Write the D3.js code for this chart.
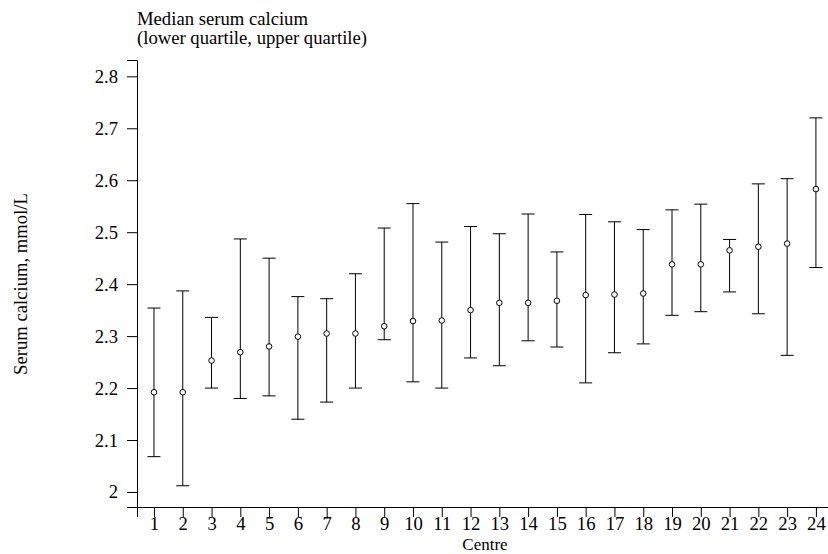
<!DOCTYPE html>
<html lang="en">
<head>
    <meta charset="utf-8" />
    <style>
        body {margin:0; background: white;}
        text {font-family: "Liberation Serif", "Times New Roman", Times, "DejaVu Serif", serif; font-size: 18.67px; fill: black;}
        .axis path, .axis line {stroke: black; stroke-width: 1;}
        .bar {stroke: black; stroke-width: 1; fill: none;}
        circle {stroke: black; stroke-width: 1; fill: none;}
    </style>
    <script src="https://cdn.jsdelivr.net/npm/d3@7"></script>
</head>
<body>
    <svg></svg>
</body>
<script>
    var width = 828,
        height = 554,
        capHalf = 6.5;

    var centres = [1, 2, 3, 4, 5, 6, 7, 8, 9, 10, 11, 12, 13, 14, 15, 16, 17, 18, 19, 20, 21, 22, 23, 24];
    var medians = [2.192, 2.192, 2.253, 2.269, 2.280, 2.299, 2.305, 2.305, 2.319, 2.329, 2.330, 2.350,
                   2.364, 2.364, 2.368, 2.379, 2.380, 2.382, 2.438, 2.438, 2.465, 2.472, 2.478, 2.583];
    var lowerQ  = [2.068, 2.012, 2.200, 2.180, 2.185, 2.140, 2.173, 2.200, 2.293, 2.212, 2.200, 2.258,
                   2.243, 2.291, 2.279, 2.210, 2.268, 2.285, 2.340, 2.347, 2.385, 2.343, 2.263, 2.432];
    var upperQ  = [2.354, 2.387, 2.336, 2.487, 2.450, 2.376, 2.372, 2.420, 2.508, 2.555, 2.481, 2.511,
                   2.497, 2.535, 2.462, 2.534, 2.520, 2.505, 2.543, 2.554, 2.486, 2.593, 2.603, 2.720];
    var yTicks  = [2, 2.1, 2.2, 2.3, 2.4, 2.5, 2.6, 2.7, 2.8];

    var data = centres.map(function(c, i) {
        return {centre: c, median: medians[i], lower: lowerQ[i], upper: upperQ[i]};
    })

    var x = d3.scaleLinear().domain([0.41, 24.42]).range([137, 828]);
    var y = d3.scaleLinear().domain([1.9711, 2.8314]).range([507, 60]);

    var svg = d3.select("svg")
        .attr("width", width)
        .attr("height", height)

    svg.append("g")
        .attr("class", "axis")
        .attr("transform", "translate(137,0)")
        .call(d3.axisLeft(y).tickValues(yTicks).tickSizeOuter(0).tickSize(10).tickPadding(9)
            .tickFormat(function(d) {return d3.format("")(+d.toFixed(1))}))

    svg.append("g")
        .attr("class", "axis")
        .attr("transform", "translate(0,507)")
        .call(d3.axisBottom(x).tickValues(centres).tickSizeOuter(0).tickSize(10).tickPadding(0))

    // drop the axis' own sans-serif font so the css rule above applies
    svg.selectAll(".axis").attr("font-family", null).attr("font-size", null)

    var bars = svg.append("g").selectAll("g")
        .data(data)
      .enter().append("g")

    bars.append("line")
        .attr("class", "bar")
        .attr("x1", function(d) {return x(d.centre)})
        .attr("x2", function(d) {return x(d.centre)})
        .attr("y1", function(d) {return y(d.lower)})
        .attr("y2", function(d) {return y(d.upper)})

    bars.append("line")
        .attr("class", "bar")
        .attr("x1", function(d) {return x(d.centre) - capHalf})
        .attr("x2", function(d) {return x(d.centre) + capHalf})
        .attr("y1", function(d) {return y(d.upper)})
        .attr("y2", function(d) {return y(d.upper)})

    bars.append("line")
        .attr("class", "bar")
        .attr("x1", function(d) {return x(d.centre) - capHalf})
        .attr("x2", function(d) {return x(d.centre) + capHalf})
        .attr("y1", function(d) {return y(d.lower)})
        .attr("y2", function(d) {return y(d.lower)})

    // median markers: open circle, white inside so the bar does not show through
    bars.append("circle")
        .attr("r", 2.8)
        .style("fill", "white")
        .attr("cx", function(d) {return x(d.centre)})
        .attr("cy", function(d) {return y(d.median)})

    svg.append("text")
        .attr("x", 137)
        .attr("y", 25)
        .text("Median serum calcium")

    svg.append("text")
        .attr("x", 137)
        .attr("y", 44)
        .text("(lower quartile, upper quartile)")

    svg.append("text")
        .attr("text-anchor", "middle")
        .attr("transform", "translate(27,284) rotate(-90)")
        .text("Serum calcium, mmol/L")

    svg.append("text")
        .attr("text-anchor", "middle")
        .attr("x", 485)
        .attr("y", 550)
        .style("font-size", "17px")
        .text("Centre")
</script>
</html>
